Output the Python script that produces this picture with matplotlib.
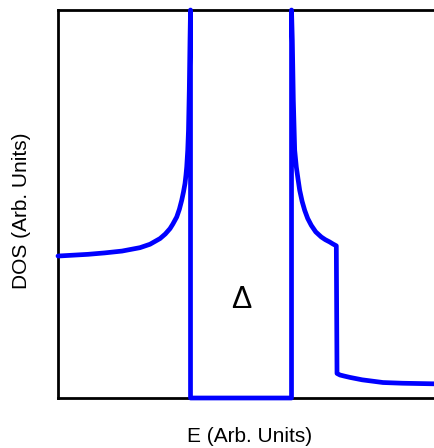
import numpy as np
import matplotlib.pyplot as plt

plt.rcParams['font.family'] = ['Liberation Sans', 'DejaVu Sans']

# density of states (E in units of the gap edge, DOS in units of normal DOS)
e_left = [-3.624, -3.030, -2.700, -2.356, -2.000, -1.802, -1.604, -1.500, -1.406, -1.350,
          -1.273, -1.220, -1.174, -1.140, -1.109, -1.090, -1.075, -1.055, -1.040, -1.024,
          -1.010, -1.000]
dos_left = [1.000, 1.012, 1.022, 1.035, 1.059, 1.083, 1.123, 1.155, 1.193, 1.225,
            1.275, 1.330, 1.393, 1.450, 1.511, 1.570, 1.628, 1.745, 1.886, 2.169,
            2.521, 2.733]

e_gap = [-1.000, -1.000, 1.000, 1.000]
dos_gap = [2.733, 0.0, 0.0, 2.733]

e_right = [1.000, 1.016, 1.036, 1.063, 1.095, 1.130, 1.162, 1.210, 1.261, 1.320, 1.392,
           1.480, 1.590, 1.670, 1.756, 1.820, 1.887,
           1.901, 1.960, 2.050, 2.158, 2.400, 2.812, 3.200, 3.802, 4.000]
dos_right = [2.733, 2.521, 2.098, 1.745, 1.628, 1.540, 1.463, 1.385, 1.322, 1.265, 1.216,
             1.170, 1.134, 1.115, 1.099, 1.085, 1.072,
             0.173, 0.162, 0.154, 0.145, 0.128, 0.109, 0.104, 0.100, 0.099]

e_all = np.array(e_left + e_gap + e_right)
dos_all = np.array(dos_left + dos_gap + dos_right)

fig = plt.figure(figsize=(4.34, 4.48), dpi=100)
ax = fig.add_axes([58 / 434, 50 / 448, 384 / 434, 388 / 448])

ax.plot(e_all, dos_all, color='#0000ff', linewidth=3.4,
        solid_joinstyle='round', solid_capstyle='round', clip_on=False, zorder=3)

ax.set_xlim(-3.624, 3.98)
ax.set_ylim(0, 2.733)
ax.set_xticks([])
ax.set_yticks([])
for side in ['left', 'bottom', 'top', 'right']:
    ax.spines[side].set_linewidth(2.0)

ax.text(0.0, 0.69, 'Δ', fontsize=22, ha='center', va='center')

ax.set_xlabel('E (Arb. Units)', fontsize=15, va='center')
ax.set_ylabel('DOS (Arb. Units)', fontsize=15, va='center')
ax.xaxis.set_label_coords(0.5, -0.10)
ax.yaxis.set_label_coords(-0.094, 0.482)

plt.savefig('out.png', dpi=100)
